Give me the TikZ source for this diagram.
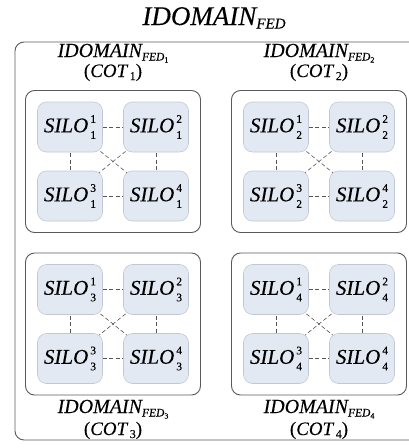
\documentclass[tikz,border=0pt]{standalone}
\usepackage{fontspec}
\setmainfont{Liberation Serif}[FakeBold=0.12]
\usetikzlibrary{backgrounds}

\definecolor{silofill}{HTML}{E3E9F3}
\definecolor{siloedge}{HTML}{C0C8D3}
\definecolor{boxedge}{HTML}{5A5A5A}
\definecolor{linkgray}{HTML}{555555}

% SILO with stacked superscript/subscript indices
\newcommand\silolabel[2]{\fontsize{21}{21}\selectfont\itshape SILO\kern2pt%
  \makebox[0pt][l]{\raisebox{9.5pt}{\fontsize{11.5}{11.5}\selectfont\upshape #1}}%
  \raisebox{-6.5pt}{\fontsize{11.5}{11.5}\selectfont\upshape #2}}
% federated domain name with nested index
\newcommand\domlabel[1]{\fontsize{20}{20}\selectfont\itshape IDOMAIN%
  \raisebox{-3.5pt}{\fontsize{11.5}{11.5}\selectfont FED\raisebox{-2pt}{\fontsize{8}{8}\selectfont\upshape #1}}}
\newcommand\cotlabel[1]{\fontsize{19}{19}\selectfont(\textit{COT}\kern1.5pt%
  \raisebox{-3pt}{\fontsize{12}{12}\selectfont #1})}

\tikzset{
  silobox/.style={draw=siloedge, fill=silofill, rounded corners=9pt,
    minimum width=65pt, minimum height=50pt, inner sep=0pt, line width=0.6pt},
  domainbox/.style={draw=boxedge, rounded corners=9pt, line width=0.9pt,
    inner sep=0pt},
  link/.style={draw=linkgray, dash pattern=on 4pt off 2.5pt, line width=0.6pt},
  caption/.style={anchor=base, inner sep=0pt}
}

\begin{document}
\begin{tikzpicture}[x=1pt, y=-1pt]
  \useasboundingbox (0,0) rectangle (409,448);

  % title and the enclosing federation
  \node[caption] (title) at (214,25) {\fontsize{27}{27}\selectfont\itshape IDOMAIN%
    \raisebox{-3.5pt}{\fontsize{15}{15}\selectfont FED}};
  \node[domainbox, minimum width=406pt, minimum height=398pt] (fed) at (218,241) {};

  % four member domains, each holding four silos
  \foreach \k/\cx/\cy/\ny/\cyy in {1/113/161.5/57/77, 2/319/161.5/57/77,
                                   3/113/324/413/435, 4/319/324/413/435}{
    \node[domainbox, minimum width=175pt, minimum height=142pt] (d\k) at (\cx,\cy) {};
    \node[caption] (n\k) at (\cx,\ny) {\domlabel{\k}};
    \node[caption] (c\k) at (\cx,\cyy) {\cotlabel{\k}};
    \node[silobox] (s\k-1) at (\cx-43,\cy-34.5) {\silolabel{1}{\k}};
    \node[silobox] (s\k-2) at (\cx+43,\cy-34.5) {\silolabel{2}{\k}};
    \node[silobox] (s\k-3) at (\cx-43,\cy+34.5) {\silolabel{3}{\k}};
    \node[silobox] (s\k-4) at (\cx+43,\cy+34.5) {\silolabel{4}{\k}};
    \begin{scope}[on background layer]
      \draw[link] (s\k-1.center) -- (s\k-2.center);
      \draw[link] (s\k-3.center) -- (s\k-4.center);
      \draw[link] (s\k-1.center) -- (s\k-3.center);
      \draw[link] (s\k-2.center) -- (s\k-4.center);
      \draw[link] (s\k-1.center) -- (s\k-4.center);
      \draw[link] (s\k-2.center) -- (s\k-3.center);
    \end{scope}
  }
\end{tikzpicture}
\end{document}
